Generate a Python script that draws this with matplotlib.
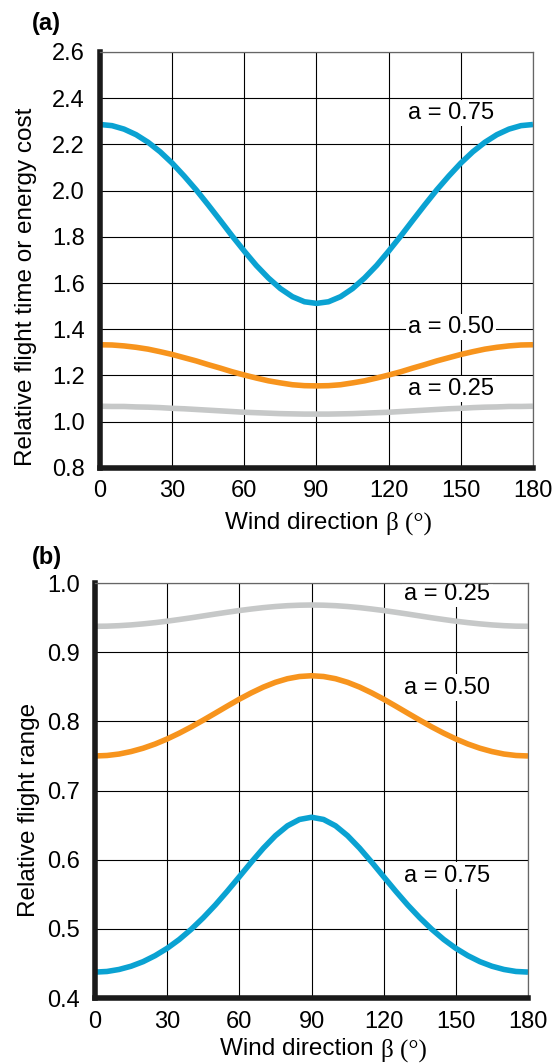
import numpy as np
import matplotlib
matplotlib.use("Agg")
import matplotlib.pyplot as plt

plt.rcParams['font.family'] = ['Liberation Sans', 'DejaVu Sans']

# wind direction (deg), every 5 degrees
beta = list(range(0, 181, 5))

# (a) relative flight time / energy cost
time_075 = [2.286, 2.281, 2.266, 2.242, 2.209, 2.168, 2.119, 2.063, 2.003, 1.938,
            1.871, 1.803, 1.738, 1.676, 1.622, 1.576, 1.541, 1.519, 1.512,
            1.519, 1.541, 1.576, 1.622, 1.676, 1.738, 1.803, 1.871, 1.938,
            2.003, 2.063, 2.119, 2.168, 2.209, 2.242, 2.266, 2.281, 2.286]
time_050 = [1.333, 1.332, 1.328, 1.322, 1.314, 1.303, 1.291, 1.277, 1.263, 1.247,
            1.232, 1.216, 1.202, 1.189, 1.177, 1.168, 1.160, 1.156, 1.155,
            1.156, 1.160, 1.168, 1.177, 1.189, 1.202, 1.216, 1.232, 1.247,
            1.263, 1.277, 1.291, 1.303, 1.314, 1.322, 1.328, 1.332, 1.333]
time_025 = [1.067, 1.066, 1.066, 1.064, 1.063, 1.061, 1.058, 1.056, 1.053, 1.050,
            1.047, 1.044, 1.041, 1.039, 1.037, 1.035, 1.034, 1.033, 1.033,
            1.033, 1.034, 1.035, 1.037, 1.039, 1.041, 1.044, 1.047, 1.050,
            1.053, 1.056, 1.058, 1.061, 1.063, 1.064, 1.066, 1.066, 1.067]

# (b) relative flight range
range_075 = [0.4375, 0.4384, 0.4413, 0.4460, 0.4526, 0.4613, 0.4719, 0.4846, 0.4994, 0.5161,
             0.5345, 0.5545, 0.5754, 0.5965, 0.6167, 0.6347, 0.6490, 0.6582, 0.6614,
             0.6582, 0.6490, 0.6347, 0.6167, 0.5965, 0.5754, 0.5545, 0.5345, 0.5161,
             0.4994, 0.4846, 0.4719, 0.4613, 0.4526, 0.4460, 0.4413, 0.4384, 0.4375]
range_050 = [0.7500, 0.7507, 0.7528, 0.7564, 0.7612, 0.7673, 0.7746, 0.7829, 0.7920, 0.8018,
             0.8119, 0.8221, 0.8321, 0.8413, 0.8496, 0.8565, 0.8617, 0.8649, 0.8660,
             0.8649, 0.8617, 0.8565, 0.8496, 0.8413, 0.8321, 0.8221, 0.8119, 0.8018,
             0.7920, 0.7829, 0.7746, 0.7673, 0.7612, 0.7564, 0.7528, 0.7507, 0.7500]
range_025 = [0.9375, 0.9377, 0.9384, 0.9395, 0.9410, 0.9428, 0.9449, 0.9473, 0.9498, 0.9525,
             0.9552, 0.9578, 0.9603, 0.9625, 0.9645, 0.9661, 0.9673, 0.9680, 0.9683,
             0.9680, 0.9673, 0.9661, 0.9645, 0.9625, 0.9603, 0.9578, 0.9552, 0.9525,
             0.9498, 0.9473, 0.9449, 0.9428, 0.9410, 0.9395, 0.9384, 0.9377, 0.9375]

labels = ['a = 0.75', 'a = 0.50', 'a = 0.25']
colors = ['#0aa2d2', '#f7941d', '#c6c8c8']

label_pos_a = [(146, 2.335), (146, 1.41), (146, 1.14)]
label_pos_b = [(146.5, 0.577), (146.5, 0.849), (146.5, 0.984)]

FS = 17


def style_axes(ax, ylim, yticks, ylabel, ylab_xy, xlab_y):
    ax.set_xlim(0, 180)
    ax.set_ylim(*ylim)
    ax.set_xticks(range(0, 181, 30))
    ax.set_yticks(yticks)
    ax.set_yticklabels([f'{v:.1f}' for v in yticks])
    ax.grid(True, color='black', lw=0.8)
    ax.set_axisbelow(True)
    ax.tick_params(length=0, labelsize=FS, pad=9)
    ax.tick_params(axis='y', pad=11)
    for s in ['left', 'bottom']:
        ax.spines[s].set_linewidth(4.0)
        ax.spines[s].set_color('#1a1a1a')
    for s in ['top', 'right']:
        ax.spines[s].set_linewidth(0.9)
        ax.spines[s].set_color('#666666')
    ax.set_ylabel(ylabel, fontsize=FS + 0.5)
    ax.yaxis.set_label_coords(*ylab_xy)
    # x label: sans text + serif beta
    ax.text(0.66, xlab_y, 'Wind direction ', transform=ax.transAxes,
            ha='right', va='top', fontsize=FS + 0.5)
    ax.text(0.66, xlab_y, 'β (°)', transform=ax.transAxes,
            ha='left', va='top', fontsize=FS + 1, family='Liberation Serif')


fig = plt.figure(figsize=(5.53, 10.64), dpi=100)
ax1 = fig.add_axes([0.1808, 0.5602, 0.783, 0.391])
ax2 = fig.add_axes([0.1718, 0.062, 0.783, 0.390])

for ys, c in zip([time_075, time_050, time_025], colors):
    ax1.plot(beta, ys, color=c, lw=4.0, solid_capstyle='butt', zorder=2.3)
for ys, c in zip([range_075, range_050, range_025], colors):
    ax2.plot(beta, ys, color=c, lw=4.0, solid_capstyle='butt', zorder=2.3)

style_axes(ax1, (0.8, 2.6), np.arange(0.8, 2.61, 0.2),
           'Relative flight time or energy cost', (-0.145, 0.435), -0.105)
style_axes(ax2, (0.4, 1.0), np.arange(0.4, 1.01, 0.1),
           'Relative flight range', (-0.128, 0.453), -0.097)

box = dict(facecolor='white', edgecolor='none', pad=1.5)
for lab, (x, y) in zip(labels, label_pos_a):
    ax1.text(x, y, lab, ha='center', va='center', fontsize=FS, bbox=box, zorder=2.45)
for lab, (x, y) in zip(labels, label_pos_b):
    ax2.text(x, y, lab, ha='center', va='center', fontsize=FS, bbox=box, zorder=2.45)

fig.text(0.084, 0.978, '(a)', fontsize=17, fontweight='bold', ha='center', va='center')
fig.text(0.084, 0.476, '(b)', fontsize=17, fontweight='bold', ha='center', va='center')

fig.savefig('out.png', dpi=100)
